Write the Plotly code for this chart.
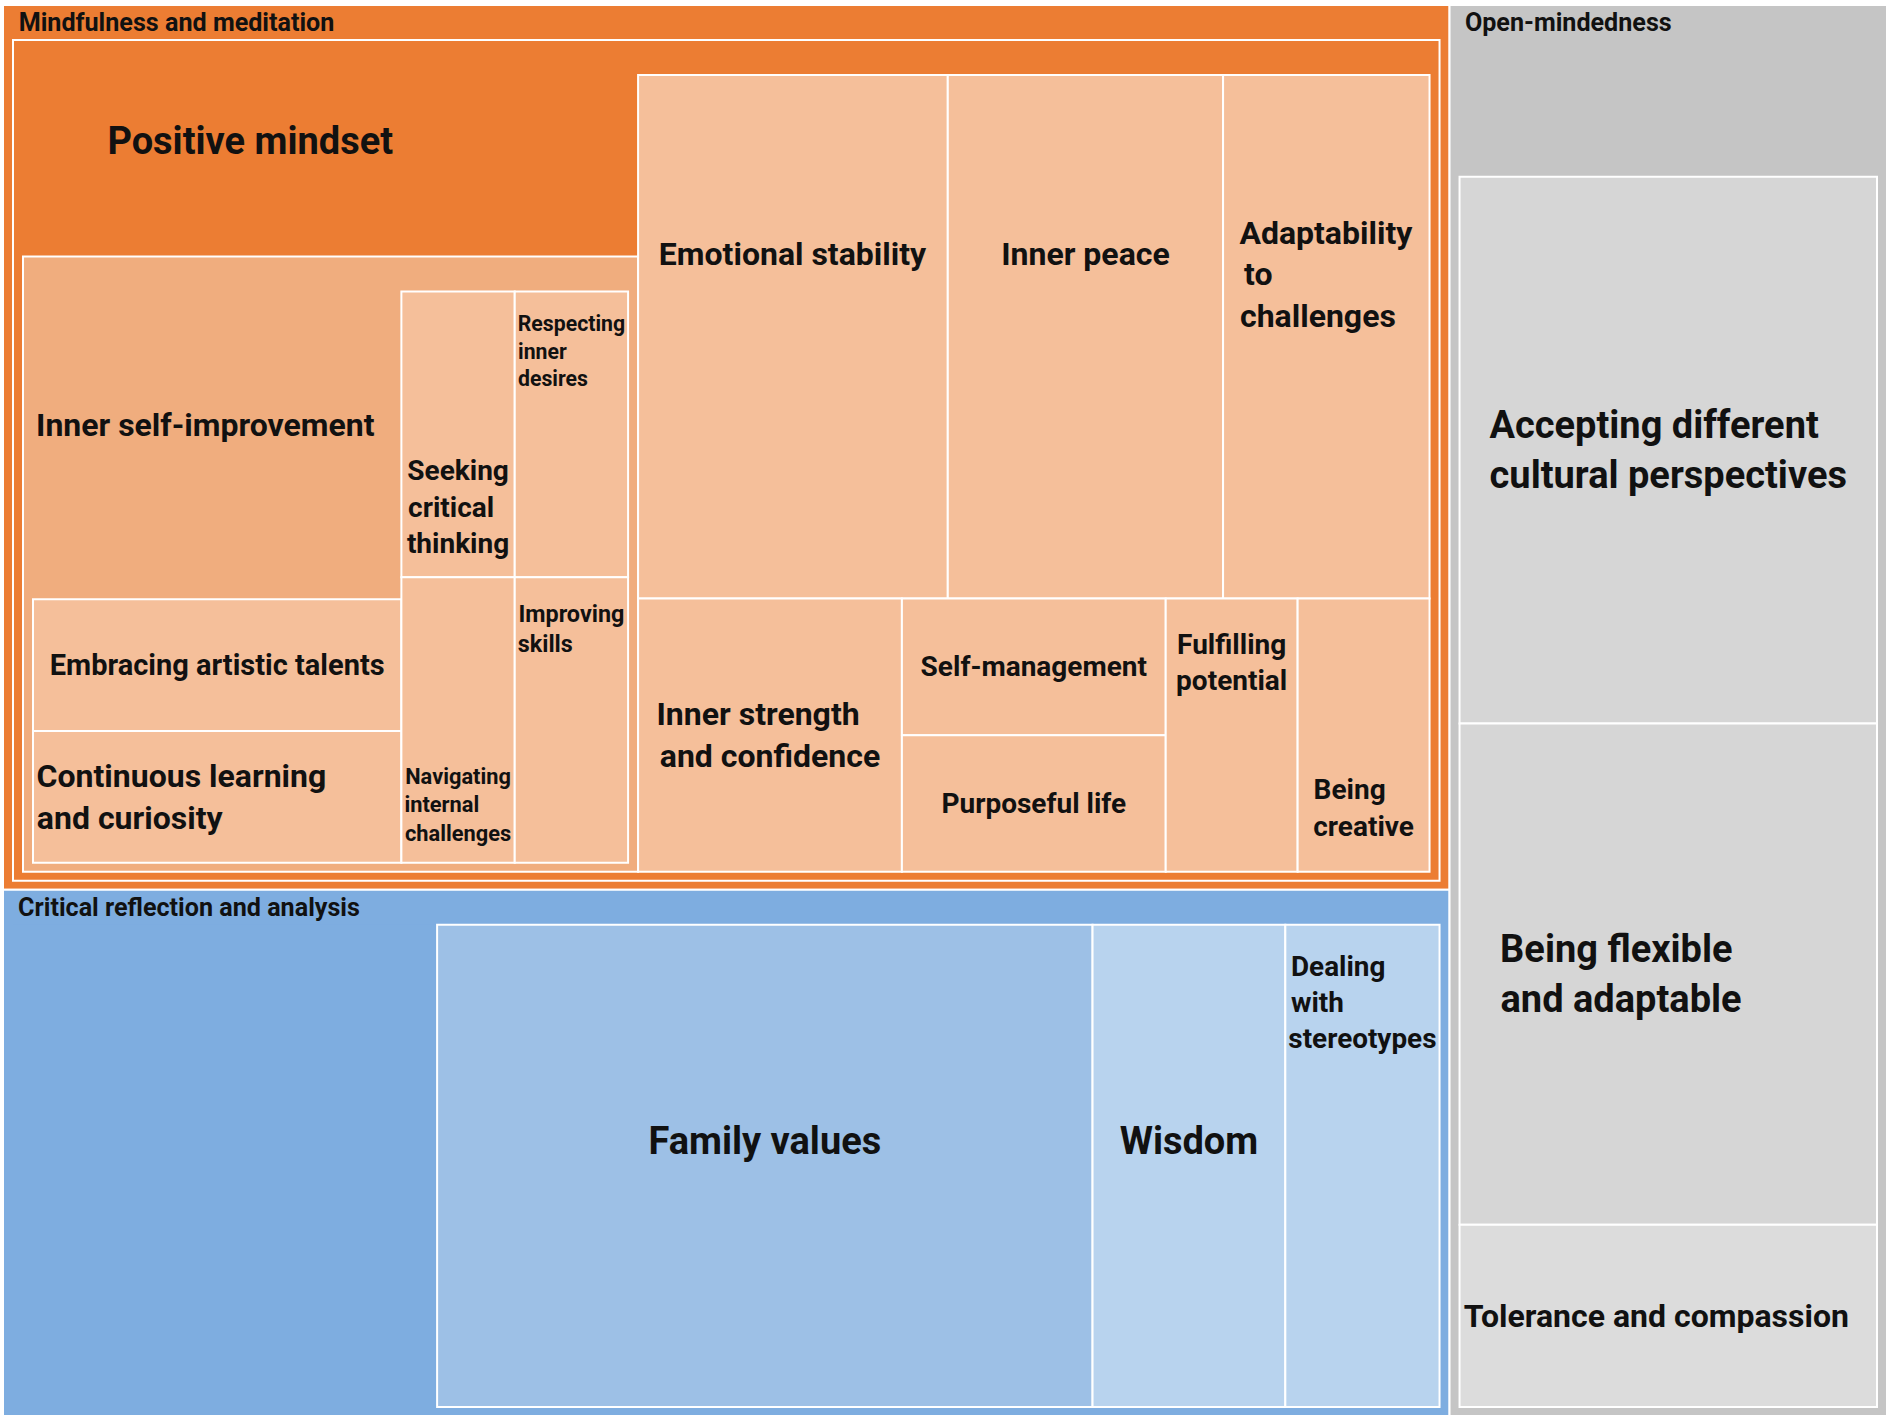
import plotly.graph_objects as go

# ---------------- data (values read as cell areas from the picture) ----------------
top_categories = ["Mindfulness and meditation", "Critical reflection and analysis", "Open-mindedness"]

positive_mindset_own = 31
positive_mindset_children = ["Emotional stability", "Inner peace", "Adaptability to challenges",
                             "Inner strength and confidence", "Self-management", "Purposeful life",
                             "Fulfilling potential", "Being creative"]
positive_mindset_values = [45, 40, 30, 20, 10, 10, 10, 10]

inner_self_own = 35
inner_self_children = ["Embracing artistic talents", "Continuous learning and curiosity",
                       "Seeking critical thinking", "Respecting inner desires",
                       "Navigating internal challenges", "Improving skills"]
inner_self_values = [15, 15, 10, 10, 10, 10]

critical_own = 55
critical_children = ["Family values", "Wisdom", "Dealing with stereotypes"]
critical_values = [85, 25, 20]

open_own = 15
open_children = ["Accepting different cultural perspectives", "Being flexible and adaptable",
                 "Tolerance and compassion"]
open_values = [60, 55, 20]

# ---------------- text styling ----------------
# line breaks as in the picture
wrapped = {
    "Adaptability to challenges": ["Adaptability", "to", "challenges"],
    "Respecting inner desires": ["Respecting", "inner", "desires"],
    "Seeking critical thinking": ["Seeking", "critical", "thinking"],
    "Improving skills": ["Improving", "skills"],
    "Navigating internal challenges": ["Navigating", "internal", "challenges"],
    "Continuous learning and curiosity": ["Continuous learning", "and curiosity"],
    "Inner strength and confidence": ["Inner strength", "and confidence"],
    "Fulfilling potential": ["Fulfilling", "potential"],
    "Being creative": ["Being", "creative"],
    "Accepting different cultural perspectives": ["Accepting different", "cultural perspectives"],
    "Being flexible and adaptable": ["Being flexible", "and adaptable"],
    "Dealing with stereotypes": ["Dealing", "with", "stereotypes"],
}
font_size = {
    "Positive mindset": 38, "Inner self-improvement": 32,
    "Emotional stability": 32, "Inner peace": 32, "Adaptability to challenges": 32,
    "Inner strength and confidence": 32, "Self-management": 28, "Purposeful life": 28,
    "Fulfilling potential": 28, "Being creative": 28,
    "Embracing artistic talents": 29, "Continuous learning and curiosity": 32,
    "Seeking critical thinking": 28, "Respecting inner desires": 28,
    "Navigating internal challenges": 28, "Improving skills": 28,
    "Family values": 38, "Wisdom": 38, "Dealing with stereotypes": 32,
    "Accepting different cultural perspectives": 38, "Being flexible and adaptable": 38,
    "Tolerance and compassion": 32,
}
# (blank lines above, blank lines below, extra trailing spaces) to place labels as in the picture
placement = {
    "Positive mindset": (0, 1, 17), "Inner self-improvement": (0, 1, 3),
    "Emotional stability": (0, 4, 0), "Inner peace": (0, 4, 0),
    "Adaptability to challenges": (0, 3, 0),
    "Fulfilling potential": (0, 4, 0), "Being creative": (4, 0, 0),
    "Seeking critical thinking": (4, 0, 0), "Respecting inner desires": (0, 6, 0),
    "Improving skills": (0, 6, 0), "Navigating internal challenges": (6, 0, 0),
    "Dealing with stereotypes": (0, 9, 0), "Continuous learning and curiosity": (0, 0, 9),
    "Being flexible and adaptable": (0, 0, 10), "Tolerance and compassion": (0, 0, 3),
    "Family values": (0, 1, 0), "Wisdom": (0, 1, 0),
}
leaf_color = {
    "Family values": "#9DC0E6", "Wisdom": "#B8D3EE", "Dealing with stereotypes": "#B8D3EE",
    "Accepting different cultural perspectives": "#D6D6D6",
    "Being flexible and adaptable": "#D6D6D6", "Tolerance and compassion": "#DCDCDC",
}
ORANGE, ORANGE_MID, ORANGE_LIGHT = "#EC7D33", "#F0AD7E", "#F5BF9A"
BLUE, GRAY = "#7EADE0", "#C5C5C5"

# header labels are drawn centred by plotly; trailing no-break spaces push them to the left
header_fill = {top_categories[0]: 176, top_categories[1]: 172, top_categories[2]: 32}

NBSP, ZW = "\u00a0", "\u200b"
ADV = {'a': 1089, 'b': 1122, 'c': 1046, 'd': 1127, 'e': 1058, 'f': 696, 'g': 1122, 'h': 1102,
       'i': 486, 'j': 478, 'k': 1014, 'l': 486, 'm': 1751, 'n': 1104, 'o': 1140, 'p': 1122,
       'q': 1128, 'r': 677, 's': 1031, 't': 654, 'u': 1103, 'v': 968, 'w': 1502, 'x': 991,
       'y': 946, 'z': 991, ' ': 507, '-': 600, 'A': 1336, 'B': 1275, 'C': 1333, 'D': 1343,
       'E': 1164, 'F': 1132, 'I': 557, 'N': 1430, 'P': 1292, 'R': 1262, 'S': 1216, 'T': 1222,
       'W': 1815}


def em(s):
    return sum(ADV.get(ch, 1100) for ch in s) / 507.0   # width in space units


def display_text(name):
    lines = wrapped.get(name, [name])
    above, below, extra = placement.get(name, (0, 0, 0))
    widest = max(em(l) for l in lines)
    # pad every line to the widest one so the centred lines read as left-aligned
    out = [l + NBSP * (int(round(widest - em(l))) + extra) + ZW for l in lines]
    return "<br>".join([NBSP] * above + out + [NBSP] * below)


# ---------------- build hierarchy ----------------
ids, labels, parents, values, colors, texts, sizes, lws = [], [], [], [], [], [], [], []


def add(i, label, parent, value, color, text, size, lw=2):
    ids.append(i); labels.append(label); parents.append(parent); values.append(value)
    colors.append(color); texts.append(text); sizes.append(size); lws.append(lw)


def header_label(name):
    return name + NBSP * header_fill[name] + ZW


isi_total = inner_self_own + sum(inner_self_values)
pm_total = positive_mindset_own + isi_total + sum(positive_mindset_values)
crit_total = critical_own + sum(critical_values)
open_total = open_own + sum(open_values)

M, C, O = top_categories
PM = M + "/Positive mindset"
ISI = PM + "/Inner self-improvement"

add(M, header_label(M), "", pm_total, ORANGE, "", 26)
add(PM, "", M, pm_total, ORANGE, "", 26)
add(PM + "/own", "Positive mindset", PM, positive_mindset_own, ORANGE,
    display_text("Positive mindset"), font_size["Positive mindset"], 0)
add(ISI, "", PM, isi_total, ORANGE_MID, "", 26)
add(ISI + "/own", "Inner self-improvement", ISI, inner_self_own, ORANGE_MID,
    display_text("Inner self-improvement"), font_size["Inner self-improvement"], 0)
for n, v in zip(inner_self_children, inner_self_values):
    add(ISI + "/" + n, n, ISI, v, ORANGE_LIGHT, display_text(n), font_size[n])
for n, v in zip(positive_mindset_children, positive_mindset_values):
    add(PM + "/" + n, n, PM, v, ORANGE_LIGHT, display_text(n), font_size[n])

add(C, header_label(C), "", crit_total, BLUE, "", 26)
add(C + "/own", C, C, critical_own, BLUE, "", 26, 0)
for n, v in zip(critical_children, critical_values):
    add(C + "/" + n, n, C, v, leaf_color[n], display_text(n), font_size[n])

add(O, header_label(O), "", open_total, GRAY, "", 26)
add(O + "/own", O, O, open_own, GRAY, "", 26, 0)
for n, v in zip(open_children, open_values):
    add(O + "/" + n, n, O, v, leaf_color[n], display_text(n), font_size[n])

fig = go.Figure(go.Treemap(
    ids=ids, labels=labels, parents=parents, values=values,
    branchvalues="total", sort=False,
    text=texts, textinfo="text", textposition="middle center",
    textfont=dict(family="Roboto", size=sizes, color="#111111", weight="bold"),
    marker=dict(colors=colors, line=dict(color="white", width=lws),
                pad=dict(t=35, l=10, r=10, b=9), depthfade=False),
    tiling=dict(packing="squarify", squarifyratio=1.6, pad=0),
    pathbar=dict(visible=False),
    root=dict(color="white"),
    hovertemplate="%{id}: %{value}<extra></extra>",
))
fig.update_layout(width=1904, height=1455, margin=dict(l=0, r=0, t=0, b=0),
                  paper_bgcolor="white")

# hide the empty band plotly reserves above the (invisible) multi-root node
post = ("document.body.style.margin='0';document.body.style.overflow='hidden';"
        "var gd=document.getElementById('{plot_id}');gd.style.position='absolute';"
        "gd.style.left='-7px';gd.style.top='-30px';")
fig.write_html("out.html", post_script=post)
